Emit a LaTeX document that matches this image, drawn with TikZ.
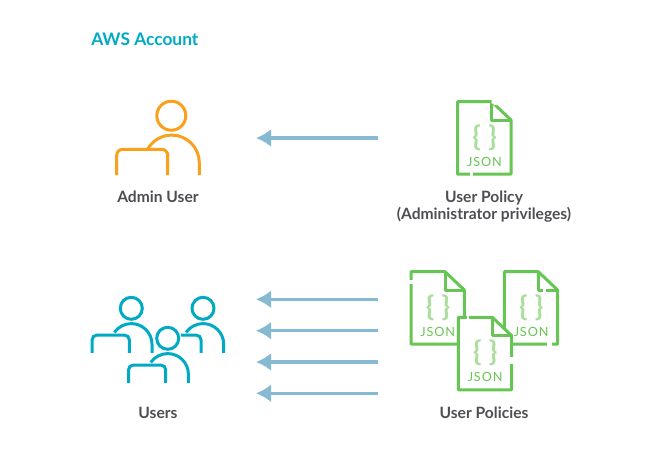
\documentclass[tikz,border=0pt]{standalone}
\usepackage{fontspec}
\setmainfont{Lato}
\newfontfamily\jsonfont[LetterSpace=7]{Lato}
\usetikzlibrary{arrows.meta}
\definecolor{adminC}{HTML}{F9A11B}
\definecolor{usersC}{HTML}{00AAC4}
\definecolor{docC}{HTML}{67C653}
\definecolor{braceC}{HTML}{A9DF9B}
\definecolor{arrowC}{HTML}{86B9D2}
\definecolor{labelC}{HTML}{4C4E52}
\tikzset{
  iconline/.style={line width=2.25pt},
  gapline/.style={white,line width=3pt},
  label/.style={font=\bfseries\fontsize{11.7}{12.8}\selectfont,text=labelC,align=center},
  flow/.style={arrowC,line width=2.4pt,-{Latex[length=11.25pt,width=13.5pt]}},
  admin/.pic={
    \draw[iconline] (0,0) circle (14.5);
    \draw[iconline] (28,59.3) -- (28,47) arc[start angle=0,end angle=-152,radius=27.6];
    \draw[iconline,rounded corners=4.5pt] (-54.6,59.3) -- (-54.6,33.6) -- (-3.6,33.6) -- (-3.6,59.3);
  },
  person/.pic={
    \draw[iconline,fill=white] (0,0) circle (11);
    \draw[iconline] (20.7,44.5) -- (20.7,36) arc[start angle=0,end angle=-145,radius=20.7];
    \draw[iconline,rounded corners=3.5pt] (-39.2,44.5) -- (-39.2,26.8) -- (-2,26.8) -- (-2,44.5);
  },
  doc/.pic={
    \draw[docC,iconline,fill=white,line join=round] (0,0) -- (34,0) -- (53.3,18.3) -- (53.3,72.5) -- (0,72.5) -- cycle;
    \draw[docC,iconline,line join=round] (34,0) -- (34,18.3) -- (53.3,18.3);
    \node[text=braceC,font=\bfseries\fontsize{21}{21}\selectfont,inner sep=0pt] (-brace) at (27,36) {\{\hspace{5.5pt}\}};
    \node[text=docC,font=\jsonfont\fontsize{9.5}{10}\selectfont] (-tag) at (26.8,60) {JSON};
  }
}
\begin{document}
\begin{tikzpicture}[x=0.75pt,y=-0.75pt]
  \useasboundingbox (0,0) rectangle (661,461);
  \node[font=\bfseries\fontsize{13}{14}\selectfont,text=usersC,anchor=west,inner sep=0pt] (account) at (91,39.5) {AWS Account};

  % top row
  \pic[adminC] (adminicon) at (171.3,115.7) {admin};
  \node[label] (adminlabel) at (158,197) {Admin User};
  \pic (policy) at (457.7,101.7) {doc};
  \draw[gapline] (470,174.2) -- (472.5,174.2);
  \draw[gapline] (491.7,101.7) -- (496,101.7) -- (495.5,105);
  \node[label] (policylabel) at (484,206.3) {User Policy\\(Administrator privileges)};
  \coordinate (p0) at (378,138);
  \coordinate (a0) at (256,138);
  \draw[flow] (p0) -- (a0);

  % bottom row
  \pic[usersC] (userone) at (131.3,308.3) {person};
  \pic[usersC] (usertwo) at (203,308.3) {person};
  \fill[white] (157,328) rectangle (180.5,355);
  \pic[usersC] (userthree) at (167.7,338.3) {person};
  \node[label] (userslabel) at (158,413) {Users};

  \pic (docone) at (411,271.7) {doc};
  \draw[gapline] (411,280) -- (411,283.5);
  \pic (doctwo) at (504.3,271.7) {doc};
  \draw[gapline] (543,290) -- (546,290);
  \draw[gapline] (546.5,344.2) -- (552,344.2);
  \pic (docthree) at (458.3,317.3) {doc};
  \draw[gapline] (467,317.3) -- (469,317.3);
  \draw[gapline] (511.6,357) -- (511.6,364);
  \node[label] (policieslabel) at (484,413) {User Policies};

  \foreach \i/\y in {1/299.3,2/330.7,3/362,4/393.3}{
    \coordinate (p\i) at (378,\y);
    \coordinate (u\i) at (256,\y);
    \draw[flow] (p\i) -- (u\i);
  }
\end{tikzpicture}
\end{document}
